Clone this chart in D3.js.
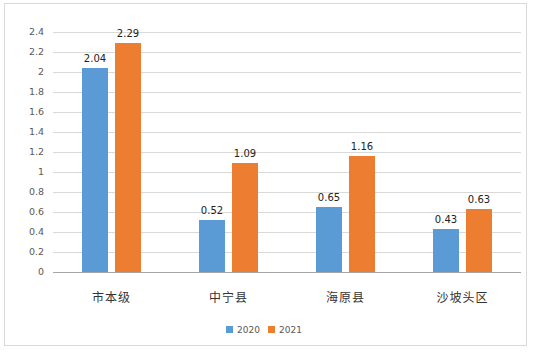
<!DOCTYPE html>
<html>
<head>
<meta charset="utf-8">
<script src="https://cdn.jsdelivr.net/npm/d3@7"></script>
<style>
  body { margin: 0; background: #fff; }
  svg text { font-family: "Noto Sans CJK SC", "DejaVu Sans", sans-serif; }
</style>
</head>
<body>
<div id="chart"></div>
<script>
const categories = ["市本级", "中宁县", "海原县", "沙坡头区"];
const series = ["2020", "2021"];
const values2020 = [2.04, 0.52, 0.65, 0.43];
const values2021 = [2.29, 1.09, 1.16, 0.63];
const yTicks = [0, 0.2, 0.4, 0.6, 0.8, 1, 1.2, 1.4, 1.6, 1.8, 2, 2.2, 2.4];
const colors = ["#5b9bd5", "#ed7d31"];

const W = 533, H = 352;
const margin = { top: 32, right: 12, bottom: 80, left: 53 };
const width = 521 - margin.left, height = 272 - margin.top;

const svg = d3.select("#chart").append("svg")
  .attr("width", W).attr("height", H);

// outer frame
svg.append("rect")
  .attr("x", 4.5).attr("y", 3.5)
  .attr("width", 522).attr("height", 342)
  .attr("fill", "#fff").attr("stroke", "#d9d9d9");

const g = svg.append("g")
  .attr("transform", `translate(${margin.left},${margin.top})`);

const x = d3.scaleBand().domain(categories).range([0, width]);
const y = d3.scaleLinear().domain([0, 2.4]).range([height, 0]);

// gridlines
g.selectAll(".grid").data(yTicks.slice(1)).enter().append("line")
  .attr("x1", 0).attr("x2", width)
  .attr("y1", d => Math.round(y(d)) + 0.5).attr("y2", d => Math.round(y(d)) + 0.5)
  .attr("stroke", "#d9d9d9");

// y tick labels
g.selectAll(".ytick").data(yTicks).enter().append("text")
  .attr("x", -9).attr("y", d => y(d))
  .attr("dy", "0.35em").attr("text-anchor", "end")
  .attr("font-size", 9.5).attr("fill", "#595959")
  .style("font-family", "Verdana, 'DejaVu Sans', sans-serif")
  .text(d => d);

const barW = 26, gap = 7;
const data = categories.map((c, i) => ({ c, v: [values2020[i], values2021[i]] }));

data.forEach(d => {
  d.v.forEach((v, j) => {
    const cx = x(d.c) + x.bandwidth() / 2;
    const bx = j === 0 ? cx - gap / 2 - barW : cx + gap / 2;
    g.append("rect")
      .attr("x", bx).attr("y", y(v))
      .attr("width", barW).attr("height", height - y(v))
      .attr("fill", colors[j]);
    g.append("text")
      .attr("x", bx + barW / 2).attr("y", y(v) - 6)
      .attr("text-anchor", "middle")
      .attr("font-size", 10).attr("fill", "#222")
      .style("font-family", "Verdana, 'DejaVu Sans', sans-serif")
      .text(v.toFixed(2));
  });
});

// baseline
g.append("line")
  .attr("x1", 0).attr("x2", width)
  .attr("y1", height + 0.5).attr("y2", height + 0.5)
  .attr("stroke", "#a6a6a6");

// category labels
g.selectAll(".cat").data(categories).enter().append("text")
  .attr("x", d => x(d) + x.bandwidth() / 2).attr("y", height + 30)
  .attr("text-anchor", "middle")
  .attr("font-size", 12).attr("fill", "#333")
  .style("letter-spacing", "1px")
  .text(d => d);

// legend
const legend = svg.append("g").attr("transform", "translate(226,326)");
series.forEach((s, i) => {
  const lg = legend.append("g").attr("transform", `translate(${i * 42},0)`);
  lg.append("rect").attr("width", 7).attr("height", 7).attr("fill", colors[i]);
  lg.append("text").attr("x", 11).attr("y", 4).attr("dy", "0.35em")
    .attr("font-size", 9).attr("fill", "#595959")
    .style("font-family", "Verdana, 'DejaVu Sans', sans-serif")
    .text(s);
});
</script>
</body>
</html>
